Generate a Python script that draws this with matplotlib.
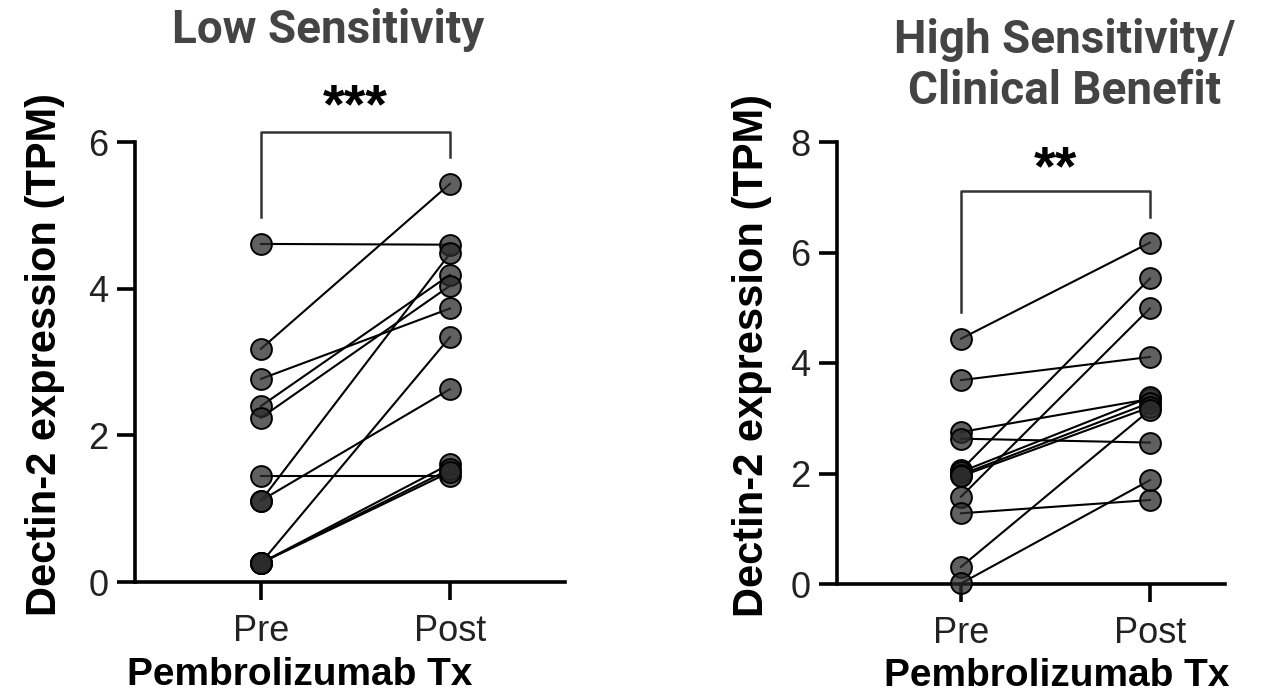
import matplotlib
matplotlib.use("Agg")
import matplotlib.pyplot as plt

# ---- data ----
groups = ["Pre", "Post"]
low_pre = [4.61, 3.18, 2.77, 2.40, 2.24, 1.45, 1.11, 1.11, 0.26, 0.26, 0.26, 0.26]
low_post = [4.60, 5.43, 3.73, 4.19, 4.04, 1.45, 4.48, 2.63, 3.34, 1.61, 1.54, 1.50]
high_pre = [4.44, 3.69, 2.75, 2.63, 2.06, 2.03, 1.98, 1.95, 1.58, 1.28, 0.31, 0.01]
high_post = [6.18, 4.11, 3.35, 2.56, 5.53, 3.38, 3.28, 3.20, 4.99, 1.52, 3.15, 1.88]
low_title = "Low Sensitivity"
high_title = "High Sensitivity/\nClinical Benefit"
low_sig = "***"
high_sig = "**"
ylabel = "Dectin-2 expression (TPM)"
xlabel = "Pembrolizumab Tx"
low_yticks = [0, 2, 4, 6]
high_yticks = [0, 2, 4, 6, 8]

W, H = 1261, 700
fig = plt.figure(figsize=(W / 100, H / 100), dpi=100)

lab_font = ["Liberation Sans", "DejaVu Sans"]
title_font = ["Roboto", "DejaVu Sans"]


def panel(rect, pre, post, yticks, title, title_xy, sig, bracket, sig_y,
          ylab_xy, xlab_xy):
    ax = fig.add_axes(rect)
    xs = [0, 1]
    for a, b in zip(pre, post):
        ax.plot(xs, [a, b], color="black", lw=1.5, zorder=2, clip_on=False)
    for x, vals in zip(xs, [pre, post]):
        ax.plot([x] * len(vals), vals, "o", ms=15, mfc=(0.17, 0.17, 0.17, 0.75),
                mec="black", mew=1.4, zorder=3, clip_on=False)
    ax.set_ylim(0, yticks[-1])
    ax.set_yticks(yticks)
    ax.set_xticks(xs)
    ax.set_xticklabels(groups)
    for s in ["top", "right"]:
        ax.spines[s].set_visible(False)
    for s in ["left", "bottom"]:
        ax.spines[s].set_linewidth(2.6)
    ax.tick_params(axis="both", length=13, width=2.6, labelsize=26, pad=6,
                   colors="black", labelcolor="#222222")
    ax.tick_params(axis="x", pad=10)
    for lbl in ax.get_xticklabels() + ax.get_yticklabels():
        lbl.set_family(lab_font)
    ax.set_ylabel(ylabel, fontsize=30, fontweight="bold", family=lab_font,
                  va="center", ha="center")
    ax.yaxis.set_label_coords(*ylab_xy)
    ax.set_xlabel(xlabel, fontsize=28, fontweight="bold", family=lab_font,
                  va="center", ha="center")
    ax.xaxis.set_label_coords(*xlab_xy)
    # significance bracket
    top, lpre, lpost = bracket
    ax.plot([0, 0, 1, 1], [lpre, top, top, lpost], color="#333333", lw=1.8,
            clip_on=False, zorder=1)
    ax.text(0.5, sig_y, sig, ha="center", va="center", fontsize=40,
            fontweight="bold", family=lab_font, clip_on=False)
    fig.text(title_xy[0] / W, 1 - title_xy[1] / H, title, ha="center", va="center",
             fontsize=33, fontweight="bold", family=title_font, color="#444444",
             linespacing=1.2)
    return ax


def rect_from_px(x0, x1, y_top, y_bot):
    return [x0 / W, 1 - y_bot / H, (x1 - x0) / W, (y_bot - y_top) / H]


ax1 = panel(rect_from_px(135, 565, 142, 582), low_pre, low_post, low_yticks,
            low_title, (328, 30), low_sig, (6.14, 4.98, 5.80), 6.46,
            (-0.209, 0.516), (0.384, -0.211))
ax1.set_xlim(-126 / 189, (565 - 261) / 189)

ax2 = panel(rect_from_px(837, 1225, 142, 584), high_pre, high_post, high_yticks,
            high_title, (1065, 66), high_sig, (7.12, 4.92, 6.64), 7.48,
            (-0.219, 0.518), (0.567, -0.209))
ax2.set_xlim(-124 / 189, (1225 - 961) / 189)

fig.savefig("out.png", dpi=100)
